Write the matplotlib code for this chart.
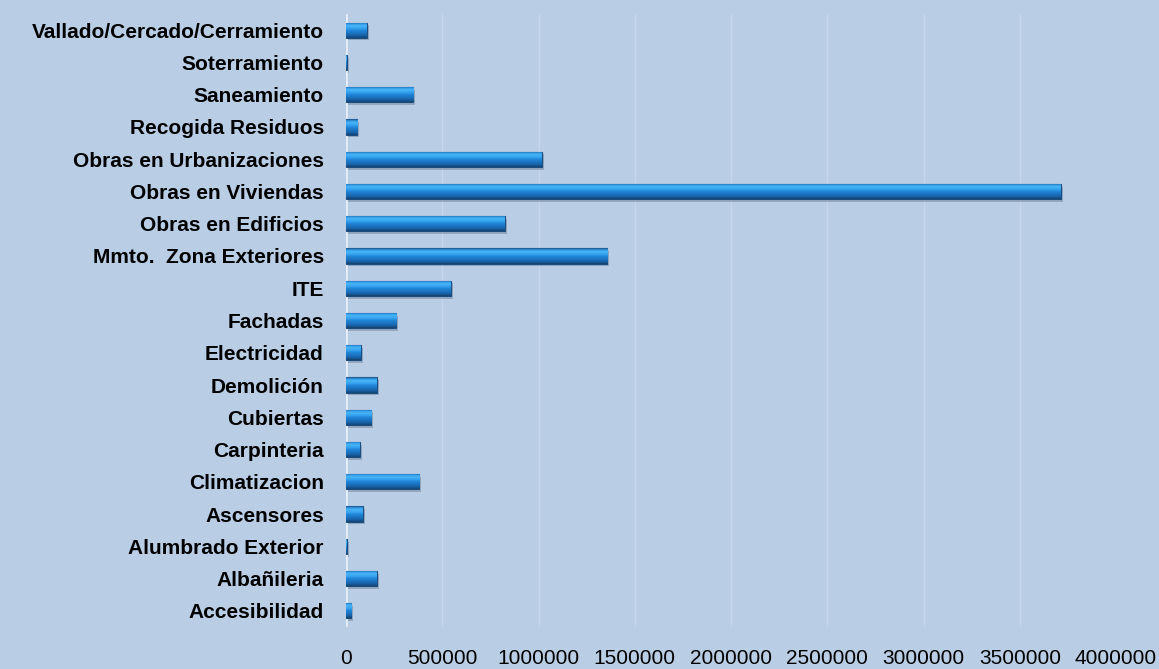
import numpy as np
import matplotlib
matplotlib.use('Agg')
import matplotlib.pyplot as plt
import matplotlib.patheffects as pe
from matplotlib.colors import LinearSegmentedColormap

# categories bottom -> top, as in the chart
categories = ['Accesibilidad', 'Albañileria', 'Alumbrado Exterior', 'Ascensores',
              'Climatizacion', 'Carpinteria', 'Cubiertas', 'Demolición',
              'Electricidad', 'Fachadas', 'ITE', 'Mmto.  Zona Exteriores',
              'Obras en Edificios', 'Obras en Viviendas', 'Obras en Urbanizaciones',
              'Recogida Residuos', 'Saneamiento', 'Soterramiento',
              'Vallado/Cercado/Cerramiento']
values = [26000, 159000, 5000, 88000,
          381000, 72000, 130000, 161000,
          76000, 260000, 545000, 1357000,
          825000, 3712000, 1018000,
          59000, 350000, 5000,
          107000]
x_ticks = [0, 500000, 1000000, 1500000, 2000000, 2500000, 3000000, 3500000, 4000000]

bg = '#b9cde5'
plt.rcParams['font.family'] = ['Liberation Sans', 'DejaVu Sans']

fig = plt.figure(figsize=(11.59, 6.69), dpi=100, facecolor=bg)
ax = fig.add_axes([346 / 1159, 1 - 627 / 669, (1116 - 346) / 1159, (627 - 14) / 669])
ax.set_facecolor(bg)

y = np.arange(len(categories))
bars = ax.barh(y, values, height=0.47, color='#1f7fd0', edgecolor='#1a4d80',
               linewidth=0.8, zorder=3)
for b in bars:
    b.set_path_effects([pe.SimplePatchShadow(offset=(1.5, -2), shadow_rgbFace='#5f708a', alpha=0.4),
                        pe.Normal()])

# bevel-like vertical gradient inside each bar
cmap = LinearSegmentedColormap.from_list('bevel', [
    (0.00, '#1c4f82'), (0.10, '#2e94e0'), (0.22, '#48b6f8'), (0.40, '#35a1ee'),
    (0.52, '#2086d7'), (0.75, '#1b6ebb'), (0.90, '#175a98'), (1.00, '#16416a')])
grad = np.linspace(0, 1, 64).reshape(-1, 1)
for b in bars:
    x0, y0, w, h = b.get_x(), b.get_y(), b.get_width(), b.get_height()
    im = ax.imshow(grad, cmap=cmap, extent=(x0, x0 + w, y0, y0 + h), origin='upper',
                   aspect='auto', zorder=4, interpolation='bilinear')
    im.set_clip_path(b)

ax.set_xlim(0, 4000000)
ax.set_ylim(-0.5, len(categories) - 0.5)

ax.set_xticks(x_ticks)
ax.set_xticklabels([str(v) for v in x_ticks], fontsize=15, color='#000000')
ax.set_yticks(y)
ax.set_yticklabels(categories, fontsize=15, fontweight='bold', color='#000000')
ax.tick_params(axis='both', length=0)
ax.tick_params(axis='y', pad=16)
ax.tick_params(axis='x', pad=16)

ax.grid(axis='x', color='#c7d7eb', linewidth=1, zorder=0)
ax.grid(axis='y', visible=False)
ax.axvline(0, color='#e6edf6', linewidth=2, zorder=2)
for s in ax.spines.values():
    s.set_visible(False)

fig.savefig('out.png', dpi=100, facecolor=bg)
